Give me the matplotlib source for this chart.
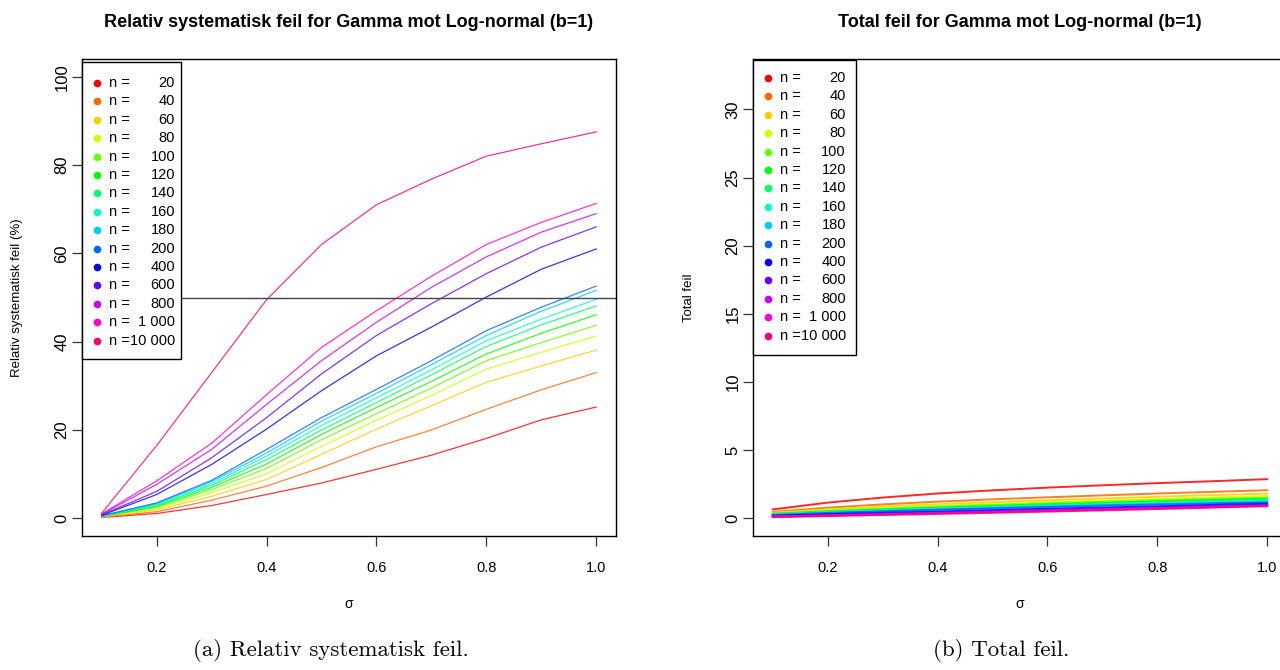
import numpy as np
import matplotlib.pyplot as plt
import matplotlib.colors as mcolors

#------------------------------------------------------------------------------
# Data
#------------------------------------------------------------------------------

sigma = [0.1, 0.2, 0.3, 0.4, 0.5, 0.6, 0.7, 0.8, 0.9, 1.0]
n_vals = [20, 40, 60, 80, 100, 120, 140, 160, 180, 200, 400, 600, 800, 1000, 10000]

# relativ systematisk feil (%)
rel20 = [0.2, 1.1, 2.9, 5.4, 8.0, 11.1, 14.3, 18.1, 22.3, 25.2]
rel40 = [0.3, 1.5, 4.1, 7.3, 11.5, 16.2, 20.0, 24.7, 29.1, 33.0]
rel60 = [0.35, 1.9, 5.0, 8.8, 14.5, 20.2, 25.5, 30.8, 34.5, 38.1]
rel80 = [0.4, 2.2, 5.8, 10.1, 16.3, 22.2, 27.8, 33.8, 37.6, 41.3]
rel100 = [0.4, 2.5, 6.5, 11.3, 17.8, 23.7, 29.5, 35.7, 39.8, 43.7]
rel120 = [0.45, 2.7, 7.0, 12.3, 19.0, 25.1, 31.0, 37.2, 41.9, 46.1]
rel140 = [0.5, 2.9, 7.5, 13.3, 20.0, 26.2, 32.5, 38.9, 43.8, 48.1]
rel160 = [0.5, 3.1, 7.9, 14.1, 21.0, 27.3, 33.6, 40.2, 45.1, 49.6]
rel180 = [0.55, 3.3, 8.3, 14.8, 22.0, 28.3, 34.8, 41.4, 46.9, 51.6]
rel200 = [0.6, 3.5, 8.6, 15.6, 22.8, 29.2, 35.7, 42.5, 47.8, 52.6]
rel400 = [0.7, 5.4, 12.2, 20.2, 28.9, 36.8, 43.3, 50.1, 56.4, 61.0]
rel600 = [0.8, 6.1, 13.7, 22.8, 32.7, 41.4, 48.6, 55.4, 61.4, 66.0]
rel800 = [0.9, 7.7, 15.6, 25.8, 35.7, 44.4, 52.3, 59.2, 64.8, 69.0]
rel1000 = [1.0, 8.5, 17.0, 28.0, 38.7, 47.0, 54.8, 62.0, 67.0, 71.3]
rel10000 = [1.2, 16.5, 33.0, 49.5, 62.0, 71.0, 76.8, 82.0, 84.8, 87.5]

# total feil
tot20 = [0.65, 1.15, 1.52, 1.82, 2.05, 2.25, 2.42, 2.58, 2.72, 2.87]
tot40 = [0.47, 0.78, 1.02, 1.22, 1.39, 1.54, 1.68, 1.82, 1.94, 2.06]
tot60 = [0.42, 0.66, 0.86, 1.03, 1.18, 1.32, 1.45, 1.58, 1.70, 1.81]
tot80 = [0.38, 0.59, 0.77, 0.92, 1.06, 1.19, 1.31, 1.43, 1.54, 1.64]
tot100 = [0.35, 0.54, 0.70, 0.84, 0.97, 1.09, 1.21, 1.32, 1.42, 1.51]
tot120 = [0.32, 0.50, 0.65, 0.79, 0.91, 1.03, 1.14, 1.25, 1.35, 1.44]
tot140 = [0.30, 0.47, 0.61, 0.74, 0.86, 0.97, 1.08, 1.18, 1.27, 1.36]
tot160 = [0.28, 0.44, 0.57, 0.70, 0.81, 0.92, 1.02, 1.12, 1.21, 1.29]
tot180 = [0.26, 0.41, 0.54, 0.66, 0.77, 0.87, 0.97, 1.06, 1.14, 1.22]
tot200 = [0.24, 0.39, 0.51, 0.63, 0.73, 0.83, 0.93, 1.01, 1.09, 1.17]
tot400 = [0.18, 0.30, 0.40, 0.50, 0.60, 0.70, 0.79, 0.88, 0.98, 1.07]
tot600 = [0.15, 0.25, 0.34, 0.43, 0.52, 0.62, 0.71, 0.81, 0.90, 0.99]
tot800 = [0.13, 0.22, 0.30, 0.39, 0.48, 0.57, 0.66, 0.75, 0.85, 0.94]
tot1000 = [0.12, 0.20, 0.28, 0.36, 0.45, 0.54, 0.63, 0.73, 0.82, 0.92]
tot10000 = [0.08, 0.16, 0.24, 0.32, 0.40, 0.49, 0.58, 0.68, 0.78, 0.89]

rel = [rel20, rel40, rel60, rel80, rel100, rel120, rel140, rel160, rel180,
       rel200, rel400, rel600, rel800, rel1000, rel10000]
tot = [tot20, tot40, tot60, tot80, tot100, tot120, tot140, tot160, tot180,
       tot200, tot400, tot600, tot800, tot1000, tot10000]

# R rainbow(15)
cols = [mcolors.hsv_to_rgb((i / 15.0, 1, 1)) for i in range(15)]

def fmt_n(n):
    return format(n, ',').replace(',', ' ')

#------------------------------------------------------------------------------
# Figure
#------------------------------------------------------------------------------

plt.rcParams['font.family'] = ['Liberation Sans', 'DejaVu Sans']
fig = plt.figure(figsize=(12.8, 6.7), dpi=100)
W, H = 1280.0, 670.0

def make_axes(left_px):
    ax = fig.add_axes([left_px / W, 1 - 536 / H, 534 / W, 477 / H])
    for s in ax.spines.values():
        s.set_linewidth(1.0)
    ax.tick_params(direction='out', length=7, width=0.9, color='#333333')
    ax.tick_params(axis='x', pad=11, labelsize=10.5)
    ax.tick_params(axis='y', pad=2, labelsize=12)
    ax.set_xlim(0.064, 1.036)
    ax.set_xticks([0.2, 0.4, 0.6, 0.8, 1.0])
    ax.set_xticklabels(['0.2', '0.4', '0.6', '0.8', '1.0'])
    return ax

def draw_legend(ax, x0, x1, ytop, ybot, xdot, xtxt, xnum, yfirst, step, axleft):
    # box in pixel -> axes coords
    def ax_x(px):
        return (px - axleft) / 534.0
    def ax_y(py):
        return 1 - (py - 59) / 477.0
    rect = plt.Rectangle((ax_x(x0), ax_y(ybot)), ax_x(x1) - ax_x(x0),
                         ax_y(ytop) - ax_y(ybot), transform=ax.transAxes,
                         fill=True, facecolor='white', edgecolor='black',
                         lw=1.0, zorder=5, clip_on=False)
    ax.add_patch(rect)
    for i, n in enumerate(n_vals):
        yy = ax_y(yfirst + step * i)
        ax.plot([ax_x(xdot)], [yy], 'o', color=cols[i], ms=4.5,
                transform=ax.transAxes, zorder=6, clip_on=False)
        ax.text(ax_x(xtxt), yy, 'n =', transform=ax.transAxes, fontsize=10.5,
                va='center', ha='left', zorder=6)
        ax.text(ax_x(xnum), yy, fmt_n(n), transform=ax.transAxes, fontsize=10.5,
                va='center', ha='right', zorder=6)

# (a) Relativ systematisk feil
ax1 = make_axes(82)
for i in range(15):
    ax1.plot(sigma, rel[i], color=cols[i], lw=0.9, alpha=0.8)
ax1.axhline(50, color='#444444', lw=1.0)
ax1.set_ylim(-4, 104)
ax1.set_yticks([0, 20, 40, 60, 80, 100])
ax1.set_yticklabels(['0', '20', '40', '60', '80', '100'], rotation=90, va='center')
ax1.set_title('Relativ systematisk feil for Gamma mot Log-normal (b=1)',
              fontsize=13, fontweight='bold', pad=23)
ax1.set_xlabel('σ', fontsize=10)
ax1.xaxis.set_label_coords(0.5, -0.128)
ax1.set_ylabel('Relativ systematisk feil (%)', fontsize=9.5)
ax1.yaxis.set_label_coords(-0.11, 0.5)
draw_legend(ax1, 82, 181, 62, 359, 97, 109, 175, 83, 18.4, 82)

# (b) Total feil
ax2 = make_axes(753)
for i in range(15):
    ax2.plot(sigma, tot[i], color=cols[i], lw=1.4, alpha=0.85)
ax2.set_ylim(-1.3, 33.7)
ax2.set_yticks([0, 5, 10, 15, 20, 25, 30])
ax2.set_yticklabels(['0', '5', '10', '15', '20', '25', '30'], rotation=90, va='center')
ax2.set_title('Total feil for Gamma mot Log-normal (b=1)',
              fontsize=13, fontweight='bold', pad=23)
ax2.set_xlabel('σ', fontsize=10)
ax2.xaxis.set_label_coords(0.5, -0.128)
ax2.set_ylabel('Total feil', fontsize=9.5)
ax2.yaxis.set_label_coords(-0.109, 0.5)
draw_legend(ax2, 753, 856, 60, 355, 768, 780, 846, 78, 18.4, 753)

# captions
fig.text(331 / W, 1 - 650 / H, '(a) Relativ systematisk feil.', family='cmr10',
         fontsize=16.5, ha='center', va='center')
fig.text(1001 / W, 1 - 650 / H, '(b) Total feil.', family='cmr10',
         fontsize=16.5, ha='center', va='center')

fig.savefig('out.png', dpi=100)
